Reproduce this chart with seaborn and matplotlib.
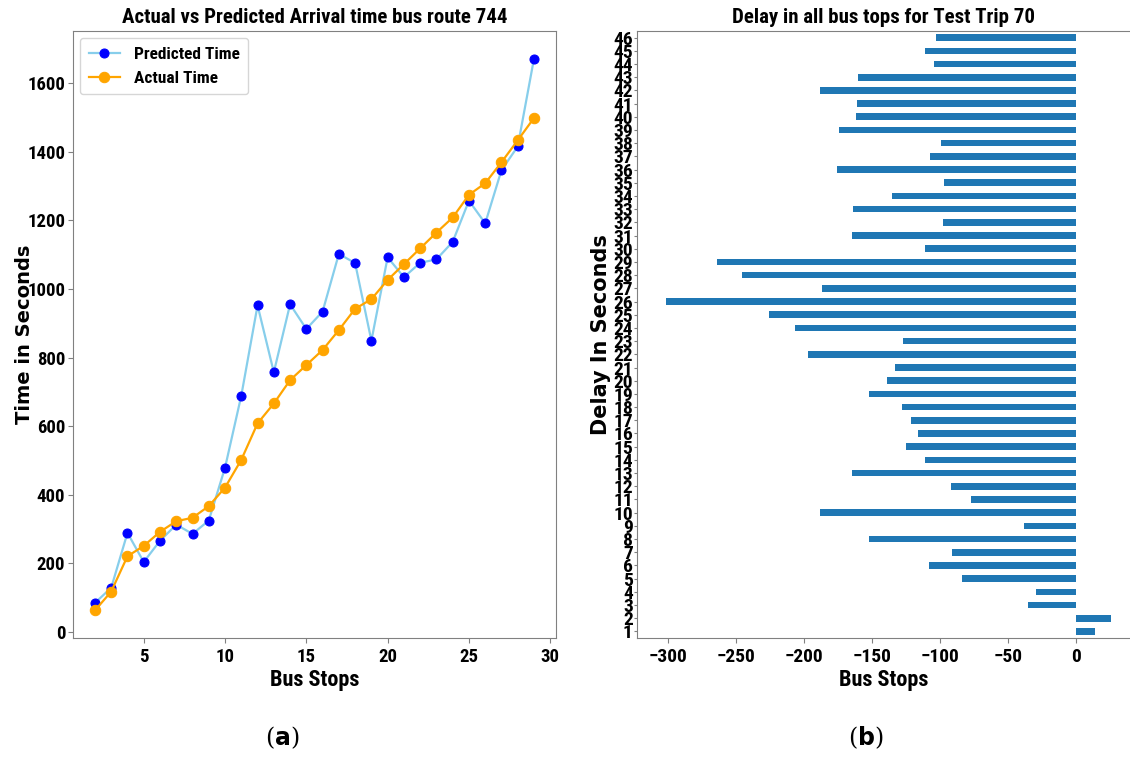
import pandas as pd
import matplotlib
matplotlib.use("Agg")
import matplotlib.pyplot as plt
import seaborn as sns


# values
bus_stops = list(range(2, 30))
predicted_time = [85, 129, 289, 204, 266, 313, 286, 325, 479, 689, 952, 757, 955, 883,
                  934, 1102, 1075, 849, 1092, 1034, 1076, 1086, 1137, 1257, 1191, 1346, 1415, 1671]
actual_time = [63, 118, 221, 251, 292, 323, 333, 367, 421, 502, 608, 666, 734, 778,
               822, 880, 942, 970, 1026, 1072, 1118, 1164, 1208, 1274, 1308, 1369, 1433, 1498]

stop_labels = [str(i) for i in range(1, 47)]
delays = [14, 26, -35, -29, -84, -108, -91, -152, -38, -188,
          -77, -92, -165, -111, -125, -116, -121, -128, -152, -139,
          -133, -197, -127, -207, -226, -302, -187, -246, -264, -111,
          -165, -98, -164, -135, -97, -176, -107, -99, -174, -162,
          -161, -188, -160, -104, -111, -103]
delay_ticks = [-300, -250, -200, -150, -100, -50, 0]

narrow = ["Roboto Condensed", "Barlow Semi Condensed", "DejaVu Sans"]
wide = ["DejaVu Sans"]

plt.rcParams["font.family"] = narrow
plt.rcParams["font.weight"] = "bold"
plt.rcParams["axes.edgecolor"] = "#808080"
plt.rcParams["xtick.color"] = "#808080"
plt.rcParams["ytick.color"] = "#808080"
plt.rcParams["xtick.labelcolor"] = "black"
plt.rcParams["ytick.labelcolor"] = "black"

fig = plt.figure(figsize=(11.3, 7.64), dpi=100)

# -------------------------
# (a) actual vs predicted
# -------------------------
ax1 = fig.add_axes([0.0646, 0.1649, 0.4274, 0.7945])
sns.lineplot(x=bus_stops, y=predicted_time, ax=ax1, color="skyblue", marker="o",
             markerfacecolor="blue", markeredgecolor="blue", markersize=6.5,
             linewidth=1.6, label="Predicted Time")
sns.lineplot(x=bus_stops, y=actual_time, ax=ax1, color="orange", marker="o",
             markerfacecolor="orange", markeredgecolor="orange", markersize=7.5,
             linewidth=1.6, label="Actual Time")
ax1.set_title("Actual vs Predicted Arrival time bus route 744", fontsize=15, fontweight="bold")
ax1.set_xlabel("Bus Stops", fontsize=16, fontweight="bold", labelpad=2)
ax1.set_ylabel("Time in Seconds", fontsize=14, fontweight="bold", family=wide)
ax1.yaxis.set_label_coords(-0.08, 0.5)
ax1.tick_params(labelsize=13.5)
ax1.tick_params(axis="y", pad=2)
ax1.set_xticks([5, 10, 15, 20, 25, 30])
ax1.legend(loc="upper left", prop={"family": narrow, "weight": "bold", "size": 12.5},
           handlelength=1.8, borderpad=0.5, borderaxespad=0.4)

# -------------------------
# (b) delay per bus stop
# -------------------------
ax2 = fig.add_axes([0.5637, 0.1649, 0.4363, 0.7945])
delay_df = pd.DataFrame({"stop": stop_labels, "delay": delays})
sns.barplot(data=delay_df, x="delay", y="stop", order=stop_labels[::-1], ax=ax2,
            color="#1f77b4", saturation=1, width=0.5, orient="h")
ax2.set_xlim(-323, 40)
ax2.set_xticks(delay_ticks)
ax2.set_title("Delay in all bus tops for Test Trip 70", fontsize=15, fontweight="bold")
ax2.set_xlabel("Bus Stops", fontsize=16, fontweight="bold", labelpad=2)
ax2.set_ylabel("Delay In Seconds", fontsize=15, fontweight="bold", family=wide)
ax2.yaxis.set_label_coords(-0.052, 0.5)
ax2.tick_params(labelsize=14)
ax2.tick_params(axis="y", pad=1, length=2)
ax2.spines["right"].set_visible(False)

# captions
fig.text(0.250, 0.025, r"($\mathbf{a}$)", fontsize=17, ha="center", family="DejaVu Serif",
         fontweight="normal")
fig.text(0.766, 0.025, r"($\mathbf{b}$)", fontsize=17, ha="center", family="DejaVu Serif",
         fontweight="normal")

fig.savefig("out.png", dpi=100)
